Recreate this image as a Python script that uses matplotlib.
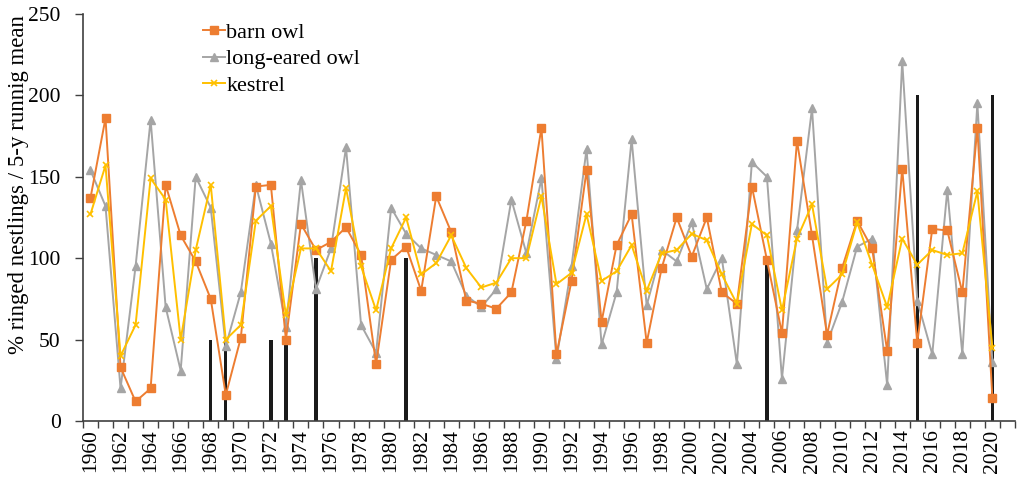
import numpy as np
import matplotlib
matplotlib.use("Agg")
import matplotlib.pyplot as plt
from matplotlib.ticker import FixedLocator, MultipleLocator

# years on the category axis (an extra empty slot for 2021 at the end)
years = list(range(1960, 2021))

barn_owl = [137, 186, 33, 12, 20, 145, 114, 98, 75, 16,
            51, 144, 145, 50, 121, 105, 110, 119, 102, 35,
            99, 107, 80, 138, 116, 74, 72, 69, 79, 123,
            180, 41, 86, 154, 61, 108, 127, 48, 94, 125,
            101, 125, 79, 72, 144, 99, 54, 172, 114, 53,
            94, 123, 106, 43, 155, 48, 118, 117, 79, 180,
            14]

long_eared_owl = [154, 132, 20, 95, 185, 70, 31, 150, 131, 46,
                  79, 145, 109, 58, 148, 81, 106, 168, 59, 42,
                  131, 115, 106, 102, 98, 77, 70, 81, 136, 103,
                  149, 38, 95, 167, 47, 79, 173, 71, 105, 98,
                  122, 81, 100, 35, 159, 150, 26, 117, 192, 48,
                  73, 107, 112, 22, 221, 74, 41, 142, 41, 195,
                  36]

kestrel = [127, 157, 40, 59, 149, 136, 50, 105, 145, 50,
           59, 123, 132, 65, 106, 106, 92, 143, 95, 68,
           106, 125, 90, 97, 114, 94, 82, 85, 100, 100,
           138, 84, 91, 127, 86, 92, 108, 80, 103, 105,
           115, 111, 90, 72, 121, 114, 68, 112, 133, 81,
           90, 122, 96, 70, 112, 96, 105, 102, 103, 141,
           45]

# black bars in the background
bar_years = [1968, 1969, 1972, 1973, 1975, 1981, 2005, 2015, 2020]
bar_values = [50, 50, 50, 50, 100, 100, 100, 200, 200]

plt.rcParams['font.family'] = ['Liberation Serif', 'DejaVu Serif']

fig = plt.figure(figsize=(10.18, 4.79), dpi=100)
ax = fig.add_axes([0.0815, 0.121, 0.9155, 0.850])

x = np.arange(len(years))
xbar = [years.index(y) for y in bar_years]
ax.bar(xbar, bar_values, width=0.22, color="#1a1a1a", zorder=1)

ax.plot(x, barn_owl, color="#ED7D31", marker="s", ms=5.5, lw=1.4,
        label="barn owl", zorder=4)
ax.plot(x, long_eared_owl, color="#A5A5A5", marker="^", ms=5.5, lw=1.4,
        label="long-eared owl", zorder=3)
ax.plot(x, kestrel, color="#FFC000", marker="x", ms=5, mew=1.2, lw=1.4,
        label="kestrel", zorder=5)

ax.set_xlim(-0.5, len(years) + 0.5)
ax.set_ylim(0, 250)
ax.yaxis.set_major_locator(MultipleLocator(50))

# labels every other year, tick marks at category boundaries
ax.set_xticks(x[::2])
ax.set_xticklabels([str(y) for y in years[::2]], rotation=90)
ax.xaxis.set_minor_locator(FixedLocator(np.arange(-0.5, len(years) + 1, 1)))
ax.tick_params(axis="x", which="major", length=0, pad=6, labelsize=15.5)
ax.tick_params(axis="x", which="minor", length=5, width=1, color="#404040")
ax.tick_params(axis="y", length=6, width=1, color="#404040", labelsize=15.5,
               pad=10)

for s in ["top", "right"]:
    ax.spines[s].set_visible(False)
for s in ["left", "bottom"]:
    ax.spines[s].set_color("#404040")
    ax.spines[s].set_linewidth(1.2)

ax.set_ylabel("% ringed nestlings / 5-y runnig mean", fontsize=16.5)
ax.yaxis.set_label_coords(-0.058, 0.582)

ax.legend(loc="upper left", bbox_to_anchor=(203 / 1018, 1 - 22 / 479),
          bbox_transform=fig.transFigure, frameon=False, fontsize=16,
          handlelength=1.0, handletextpad=0.05, labelspacing=0.28,
          borderpad=0, borderaxespad=0)

fig.savefig("out.png", dpi=100)
